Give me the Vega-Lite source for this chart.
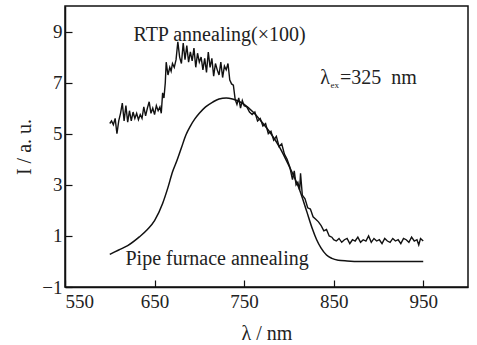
{
  "$schema": "https://vega.github.io/schema/vega-lite/v6.json",
  "width": 403,
  "height": 281,
  "autosize": "none",
  "padding": {"left": 65, "top": 6, "right": 9, "bottom": 58},
  "background": "white",
  "config": {
    "view": {"stroke": "#111", "strokeWidth": 1.5},
    "font": "Liberation Serif, serif",
    "text": {"font": "Liberation Serif, serif"},
    "axis": {
      "domainColor": "#111", "domainWidth": 1.5,
      "tickColor": "#111", "tickWidth": 1.2, "tickSize": -7,
      "grid": false,
      "labelFont": "Liberation Serif, serif", "labelFontSize": 19, "labelColor": "#222",
      "titleFont": "Liberation Serif, serif", "titleFontSize": 20, "titleColor": "#222", "titleFontWeight": "normal"
    }
  },
  "datasets": {
    "pipe": [
      {"wl": 600, "I": 0.28}, {"wl": 610, "I": 0.45}, {"wl": 620, "I": 0.62}, {"wl": 633, "I": 0.96},
      {"wl": 642, "I": 1.25}, {"wl": 650, "I": 1.6}, {"wl": 659, "I": 2.27}, {"wl": 665, "I": 2.9},
      {"wl": 670, "I": 3.5}, {"wl": 675, "I": 3.95}, {"wl": 680, "I": 4.45}, {"wl": 685, "I": 4.95},
      {"wl": 690, "I": 5.3}, {"wl": 695, "I": 5.58}, {"wl": 700, "I": 5.8}, {"wl": 707, "I": 6.05},
      {"wl": 715, "I": 6.24}, {"wl": 722, "I": 6.36}, {"wl": 730, "I": 6.4}, {"wl": 737, "I": 6.36},
      {"wl": 744, "I": 6.27}, {"wl": 750, "I": 6.15}, {"wl": 760, "I": 5.85}, {"wl": 770, "I": 5.45},
      {"wl": 780, "I": 5.0}, {"wl": 790, "I": 4.45}, {"wl": 800, "I": 3.75}, {"wl": 806, "I": 3.3},
      {"wl": 812, "I": 2.8}, {"wl": 820, "I": 1.95}, {"wl": 826, "I": 1.3}, {"wl": 831, "I": 0.85},
      {"wl": 836, "I": 0.52}, {"wl": 842, "I": 0.25}, {"wl": 848, "I": 0.12}, {"wl": 855, "I": 0.05},
      {"wl": 865, "I": 0.02}, {"wl": 880, "I": 0.0}, {"wl": 950, "I": 0.0}
    ],
    "rtp": [
      {"wl": 600, "I": 5.4}, {"wl": 602, "I": 5.5}, {"wl": 604, "I": 5.35}, {"wl": 606, "I": 5.6},
      {"wl": 608, "I": 5.0}, {"wl": 610, "I": 5.5}, {"wl": 612, "I": 5.8}, {"wl": 614, "I": 6.2},
      {"wl": 616, "I": 5.5}, {"wl": 618, "I": 6.1}, {"wl": 620, "I": 5.45}, {"wl": 622, "I": 5.9},
      {"wl": 624, "I": 5.5}, {"wl": 626, "I": 5.85}, {"wl": 628, "I": 5.6}, {"wl": 630, "I": 5.8},
      {"wl": 632, "I": 5.55}, {"wl": 634, "I": 5.75}, {"wl": 636, "I": 5.6}, {"wl": 638, "I": 6.05},
      {"wl": 640, "I": 5.7}, {"wl": 642, "I": 6.0}, {"wl": 644, "I": 6.25}, {"wl": 646, "I": 5.8},
      {"wl": 648, "I": 6.0}, {"wl": 650, "I": 5.75}, {"wl": 652, "I": 6.1}, {"wl": 654, "I": 5.9},
      {"wl": 656, "I": 6.05}, {"wl": 657.5, "I": 5.8}, {"wl": 659, "I": 6.6}, {"wl": 660.5, "I": 6.4},
      {"wl": 662, "I": 7.0}, {"wl": 663, "I": 7.8}, {"wl": 665, "I": 7.3}, {"wl": 667, "I": 7.6},
      {"wl": 668.5, "I": 7.45}, {"wl": 670, "I": 7.75}, {"wl": 672, "I": 7.6}, {"wl": 674, "I": 7.9},
      {"wl": 676, "I": 8.6}, {"wl": 678, "I": 8.0}, {"wl": 680, "I": 7.75}, {"wl": 682, "I": 8.55},
      {"wl": 684, "I": 7.9}, {"wl": 686, "I": 8.45}, {"wl": 688, "I": 7.8}, {"wl": 690, "I": 8.2},
      {"wl": 692, "I": 7.85}, {"wl": 694, "I": 8.35}, {"wl": 696, "I": 7.6}, {"wl": 698, "I": 8.15},
      {"wl": 700, "I": 7.8}, {"wl": 702, "I": 8.0}, {"wl": 704, "I": 7.5}, {"wl": 706, "I": 7.95},
      {"wl": 708, "I": 7.4}, {"wl": 710, "I": 8.2}, {"wl": 712, "I": 7.6}, {"wl": 714, "I": 7.95},
      {"wl": 716, "I": 7.25}, {"wl": 718, "I": 7.75}, {"wl": 720, "I": 7.5}, {"wl": 722, "I": 7.3},
      {"wl": 724, "I": 7.8}, {"wl": 726, "I": 7.2}, {"wl": 728, "I": 7.65}, {"wl": 730, "I": 7.5},
      {"wl": 732, "I": 7.75}, {"wl": 734, "I": 7.1}, {"wl": 736, "I": 6.95}, {"wl": 738, "I": 6.9},
      {"wl": 740, "I": 6.35}, {"wl": 742, "I": 6.15}, {"wl": 744, "I": 6.4}, {"wl": 746, "I": 6.0},
      {"wl": 748, "I": 6.3}, {"wl": 750, "I": 6.1}, {"wl": 753, "I": 6.05}, {"wl": 756, "I": 5.85},
      {"wl": 759, "I": 5.75}, {"wl": 762, "I": 5.85}, {"wl": 765, "I": 5.5}, {"wl": 768, "I": 5.6},
      {"wl": 771, "I": 5.3}, {"wl": 774, "I": 5.4}, {"wl": 777, "I": 5.0}, {"wl": 780, "I": 5.1},
      {"wl": 783, "I": 4.75}, {"wl": 786, "I": 4.9}, {"wl": 789, "I": 4.5}, {"wl": 792, "I": 4.6},
      {"wl": 795, "I": 4.2}, {"wl": 798, "I": 4.0}, {"wl": 801, "I": 3.7}, {"wl": 804, "I": 3.2},
      {"wl": 806, "I": 3.55}, {"wl": 808, "I": 3.0}, {"wl": 810, "I": 3.1}, {"wl": 812, "I": 2.8},
      {"wl": 813, "I": 3.45}, {"wl": 815, "I": 2.6}, {"wl": 818, "I": 2.45}, {"wl": 821, "I": 2.1},
      {"wl": 824, "I": 2.05}, {"wl": 827, "I": 1.75}, {"wl": 830, "I": 1.65}, {"wl": 833, "I": 1.55},
      {"wl": 836, "I": 1.4}, {"wl": 839, "I": 1.2}, {"wl": 842, "I": 1.25}, {"wl": 845, "I": 1.0},
      {"wl": 848, "I": 0.95}, {"wl": 850, "I": 0.85}, {"wl": 853, "I": 0.8}, {"wl": 856, "I": 0.9},
      {"wl": 859, "I": 0.75}, {"wl": 862, "I": 0.85}, {"wl": 865, "I": 0.9}, {"wl": 868, "I": 0.7},
      {"wl": 871, "I": 0.85}, {"wl": 874, "I": 0.8}, {"wl": 877, "I": 0.95}, {"wl": 880, "I": 0.75},
      {"wl": 883, "I": 0.85}, {"wl": 886, "I": 0.8}, {"wl": 889, "I": 1.0}, {"wl": 892, "I": 0.75},
      {"wl": 895, "I": 0.9}, {"wl": 898, "I": 0.8}, {"wl": 901, "I": 0.85}, {"wl": 904, "I": 0.7},
      {"wl": 907, "I": 0.9}, {"wl": 910, "I": 0.8}, {"wl": 913, "I": 0.75}, {"wl": 916, "I": 0.9},
      {"wl": 919, "I": 0.8}, {"wl": 922, "I": 0.85}, {"wl": 925, "I": 0.7}, {"wl": 928, "I": 0.9},
      {"wl": 931, "I": 0.85}, {"wl": 934, "I": 0.75}, {"wl": 937, "I": 0.95}, {"wl": 940, "I": 0.8},
      {"wl": 943, "I": 0.85}, {"wl": 945, "I": 0.65}, {"wl": 947, "I": 0.9}, {"wl": 950, "I": 0.8}
    ],
    "labels": [
      {"wl": 626.5, "I": 8.64, "text": "RTP annealing(×100)", "size": 20},
      {"wl": 617.5, "I": -0.12, "text": "Pipe furnace annealing", "size": 20},
      {"wl": 835, "I": 6.96, "text": "λ", "size": 20},
      {"wl": 846.5, "I": 6.8, "text": "ex", "size": 9},
      {"wl": 857, "I": 6.96, "text": "=325\u2002nm", "size": 20}
    ]
  },
  "layer": [
    {
      "data": {"name": "pipe"},
      "mark": {"type": "line", "color": "#111", "strokeWidth": 1.5, "interpolate": "monotone"},
      "encoding": {
        "x": {
          "field": "wl", "type": "quantitative",
          "scale": {"domain": [550, 1000], "nice": false, "zero": false},
          "axis": {"values": [550, 650, 750, 850, 950], "title": "λ / nm", "labelPadding": 12,
                   "titleX": 201.5, "titleY": 46, "titleBaseline": "middle", "titleAnchor": null}
        },
        "y": {
          "field": "I", "type": "quantitative",
          "scale": {"domain": [-1, 10], "nice": false, "zero": false},
          "axis": {"values": [-1, 1, 3, 5, 7, 9], "title": "I / a. u.", "labelPadding": 10,
                   "titleX": -41, "titleY": 140.5, "titleAngle": -90, "titleBaseline": "middle", "titleAlign": "center"}
        }
      }
    },
    {
      "data": {"name": "rtp"},
      "mark": {"type": "line", "color": "#111", "strokeWidth": 1.4},
      "encoding": {
        "x": {"field": "wl", "type": "quantitative"},
        "y": {"field": "I", "type": "quantitative"}
      }
    },
    {
      "data": {"name": "labels"},
      "mark": {"type": "text", "align": "left", "baseline": "alphabetic", "font": "Liberation Serif, serif", "color": "#222"},
      "encoding": {
        "x": {"field": "wl", "type": "quantitative"},
        "y": {"field": "I", "type": "quantitative"},
        "text": {"field": "text"},
        "size": {"field": "size", "type": "quantitative", "scale": null}
      }
    }
  ]
}
